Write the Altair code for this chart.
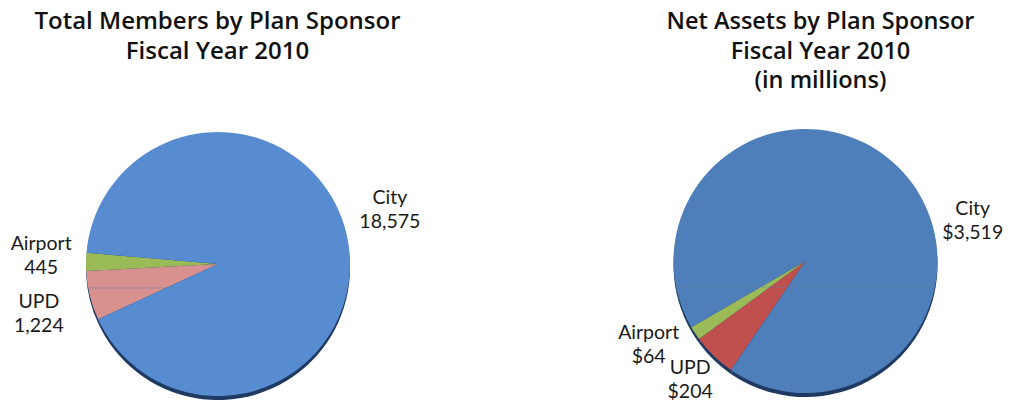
import altair as alt
import pandas as pd
import math

# ---- data ----
sponsors = ["UPD", "Airport", "City"]
members = [1224, 445, 18575]
member_labels = ["UPD\n1,224", "Airport\n445", "City\n18,575"]
assets = [204, 64, 3519]
asset_labels = ["UPD\n$204", "Airport\n$64", "City\n$3,519"]

left_title = "Total Members by Plan Sponsor\nFiscal Year 2010"
right_title = "Net Assets by Plan Sponsor\nFiscal Year 2010\n(in millions)"

left_colors = ["#d9918f", "#9bbb59", "#588cd0"]
right_colors = ["#c0504d", "#9bbb59", "#4f7fba"]

LABEL_FONT = "Lato"
TITLE_FONT = "Open Sans"
R = 132


def pie_layers(values, labels, colors, title, cx, cy, start_deg, label_pos,
               title_x, title_size, seam_y):
    df = pd.DataFrame({
        "sponsor": sponsors,
        "value": values,
        "label": labels,
        "idx": list(range(len(sponsors))),
    })
    start = math.radians(start_deg)
    theta_scale = alt.Scale(range=[start, start + 2 * math.pi])
    base = alt.Chart(df)

    shadow = base.mark_arc(yOffset=4).encode(
        theta=alt.Theta("value:Q", stack=True, scale=theta_scale),
        order=alt.Order("idx:Q"),
        x=alt.value(cx), y=alt.value(cy),
        radius=alt.value(R),
        color=alt.value("#1f3a62"),
    )
    pie = base.mark_arc().encode(
        theta=alt.Theta("value:Q", stack=True, scale=theta_scale),
        order=alt.Order("idx:Q"),
        x=alt.value(cx), y=alt.value(cy),
        radius=alt.value(R),
        color=alt.Color("sponsor:N",
                        scale=alt.Scale(domain=sponsors, range=colors),
                        legend=None),
    )
    seam = alt.Chart(alt.Data(values=[{}])).mark_rule(
        color="#5f7d9f", strokeWidth=1, opacity=0.45
    ).encode(
        x=alt.value(cx - R + 2), x2=alt.value(cx + R - 2),
        y=alt.value(seam_y),
    )
    layers = [shadow, pie, seam]
    for name, (deg, rad) in label_pos.items():
        layers.append(
            alt.Chart(df[df.sponsor == name]).mark_text(
                lineBreak="\n", font=LABEL_FONT, fontSize=19.5, color="#1a1a1a",
                align="center", baseline="middle", lineHeight=24, dy=-12,
                theta=math.radians(deg), radius=rad,
            ).encode(x=alt.value(cx), y=alt.value(cy), text="label:N")
        )
    layers.append(
        alt.Chart(alt.Data(values=[{}])).mark_text(
            lineBreak="\n", font=TITLE_FONT, fontSize=title_size, fontWeight=600,
            color="#111111", align="center", baseline="alphabetic",
            lineHeight=29.5,
        ).encode(x=alt.value(title_x), y=alt.value(21), text=alt.value(title))
    )
    return layers


left = pie_layers(members, member_labels, left_colors, left_title,
                  cx=210, cy=256, start_deg=245.2,
                  label_pos={"City": (72.7, 180), "Airport": (272.6, 177),
                             "UPD": (254.4, 186)},
                  title_x=209.5, title_size=24, seam_y=280)
right = pie_layers(assets, asset_labels, right_colors, right_title,
                   cx=797.5, cy=253, start_deg=214.4,
                   label_pos={"City": (76.5, 172), "Airport": (241.8, 178),
                              "UPD": (224.0, 166)},
                   title_x=812.5, title_size=23.5, seam_y=279)

chart = alt.layer(*left, *right).resolve_scale(
    color="independent", theta="independent"
).properties(
    width=996, height=394, padding=0, autosize=alt.AutoSizeParams(type="none")
).configure_view(stroke=None)

chart.save("out.html", embed_options={"renderer": "svg", "actions": False})
